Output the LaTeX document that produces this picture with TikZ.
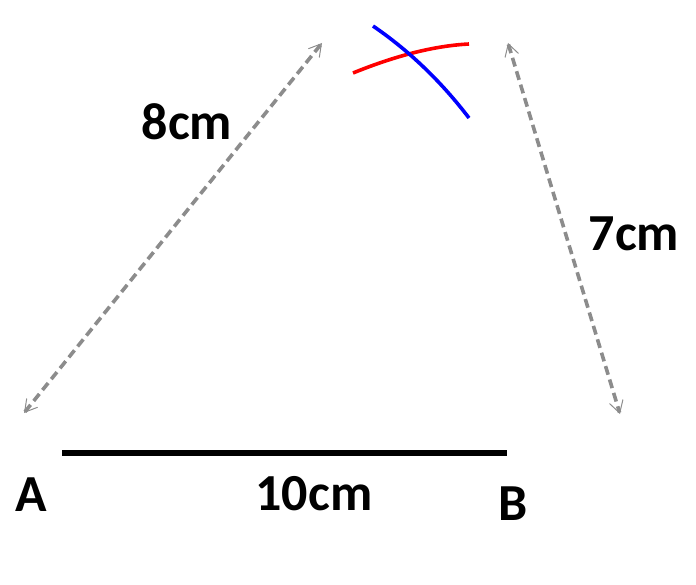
\documentclass[tikz,border=0pt]{standalone}
\usepackage{fontspec}
\setmainfont{Carlito}
\usetikzlibrary{arrows.meta}
\begin{document}
\begin{tikzpicture}[x=1pt,y=-1pt,
  lbl/.style={font=\bfseries\fontsize{52}{56}\selectfont, inner sep=0pt},
  meas/.style={draw=gray!90, line width=3.6pt, dash pattern=on 9pt off 5pt,
    {Straight Barb[length=12pt,width=14pt,line width=1pt]}-{Straight Barb[length=12pt,width=14pt,line width=1pt]}}]
\useasboundingbox (0,0) rectangle (696,585);
\coordinate (L1) at (24,413);
\coordinate (L2) at (322,43);
\coordinate (R1) at (508,43);
\coordinate (R2) at (620,414);
\coordinate (A0) at (62,453);
\coordinate (B0) at (507,453);
\draw[meas] (L1) -- (L2);
\draw[meas] (R1) -- (R2);
\draw[line width=6pt] (A0) -- (B0);
\coordinate (r1) at (353,73);
\coordinate (r2) at (469,44);
\coordinate (b1) at (373,26);
\coordinate (b2) at (469,118);
\draw[red, line width=3.6pt] (r1) .. controls (390,58) and (430,46) .. (r2);
\draw[blue, line width=3.6pt] (b1) .. controls (408,50) and (440,80) .. (b2);
\node[lbl] (A) at (31,495) {A};
\node[lbl] (B) at (513,504) {B};
\node[lbl] (l8) at (187,122) {8cm};
\node[lbl] (l10) at (314,494) {10cm};
\node[lbl] (l7) at (634,234) {7cm};
\end{tikzpicture}
\end{document}
